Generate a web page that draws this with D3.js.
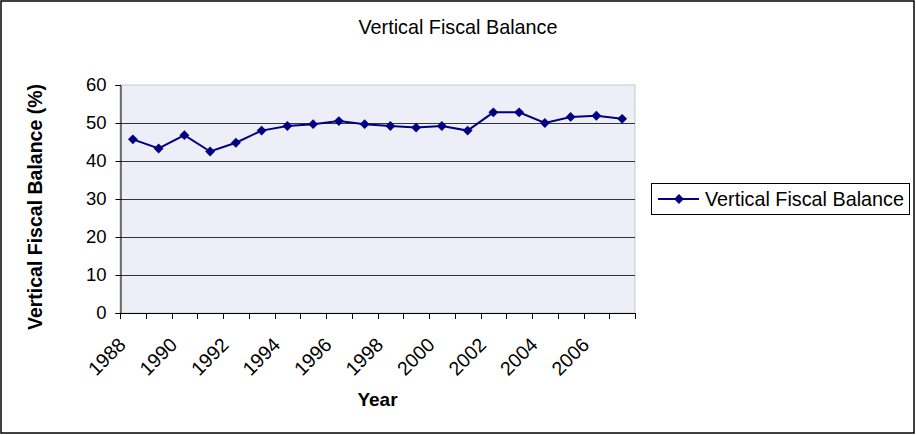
<!DOCTYPE html>
<html>
<head>
<meta charset="utf-8">
<script src="https://cdn.jsdelivr.net/npm/d3@7"></script>
<style>
  html, body { margin: 0; padding: 0; background: #fff; }
  svg { display: block; font-family: "Liberation Sans", Arial, sans-serif; }
</style>
</head>
<body>
<svg id="chart" width="916" height="435"></svg>
<script>
// Vertical fiscal balance by year, in percent
const years = [1988, 1989, 1990, 1991, 1992, 1993, 1994, 1995, 1996, 1997,
               1998, 1999, 2000, 2001, 2002, 2003, 2004, 2005, 2006, 2007];
const balance = [45.7, 43.3, 46.8, 42.5, 44.8, 48.0, 49.2, 49.7, 50.5, 49.7,
                 49.2, 48.8, 49.2, 48.0, 52.8, 52.8, 50.0, 51.6, 51.9, 51.1];
const yTicks = [0, 10, 20, 30, 40, 50, 60];
const xTickLabels = [1988, 1990, 1992, 1994, 1996, 1998, 2000, 2002, 2004, 2006];
const seriesName = "Vertical Fiscal Balance";

const svg = d3.select("#chart");
const W = 916, H = 435;
const plot = { left: 120, top: 85, right: 635, bottom: 313 };
const lineColor = "#000080";

// outer chart frame
svg.append("rect")
  .attr("x", 1).attr("y", 1).attr("width", W - 3).attr("height", H - 3)
  .attr("fill", "#fff").attr("stroke", "#000").attr("stroke-width", 1.5);

const x = d3.scaleBand().domain(years).range([plot.left, plot.right]).padding(0);
const y = d3.scaleLinear().domain([0, 60]).range([plot.bottom, plot.top]);

// plot area
svg.append("rect")
  .attr("x", plot.left).attr("y", plot.top)
  .attr("width", plot.right - plot.left).attr("height", plot.bottom - plot.top)
  .attr("fill", "#EEEEF8").attr("stroke", "#c8c8c8").attr("stroke-width", 1);

// horizontal gridlines
svg.append("g").selectAll("line")
  .data(yTicks.filter(t => t > 0 && t < 60))
  .join("line")
  .attr("x1", plot.left).attr("x2", plot.right)
  .attr("y1", d => Math.round(y(d)) + 0.5).attr("y2", d => Math.round(y(d)) + 0.5)
  .attr("stroke", "#333").attr("stroke-width", 1);

// y axis
const yAxis = svg.append("g")
  .attr("transform", `translate(${plot.left + 0.5},0)`)
  .call(d3.axisLeft(y).tickValues(yTicks).tickSize(5).tickPadding(9));
yAxis.select(".domain").attr("stroke", "#000");
yAxis.selectAll(".tick line").attr("stroke", "#000");
yAxis.selectAll("text").attr("font-size", 18.5).attr("fill", "#000")
  .attr("font-family", "Liberation Sans, Arial, sans-serif");

// x axis: ticks at category boundaries
const boundaries = years.map(d => x(d)).concat([plot.right]);
const xg = svg.append("g");
xg.append("line")
  .attr("x1", plot.left).attr("x2", plot.right)
  .attr("y1", plot.bottom + 0.5).attr("y2", plot.bottom + 0.5)
  .attr("stroke", "#000");
xg.selectAll("line.tk").data(boundaries).join("line").attr("class", "tk")
  .attr("x1", d => Math.round(d) + 0.5).attr("x2", d => Math.round(d) + 0.5)
  .attr("y1", plot.bottom).attr("y2", plot.bottom + 6)
  .attr("stroke", "#000");
xg.selectAll("text").data(xTickLabels).join("text")
  .attr("transform", d => `translate(${x(d) + x.bandwidth() / 2 - 6},${plot.bottom + 33}) rotate(-45)`)
  .attr("text-anchor", "end")
  .attr("font-size", 19.5)
  .attr("fill", "#000")
  .text(d => d);

// series line and markers
const line = d3.line()
  .x((d, i) => x(years[i]) + x.bandwidth() / 2)
  .y(d => y(d));
svg.append("path")
  .datum(balance)
  .attr("d", line)
  .attr("fill", "none").attr("stroke", lineColor).attr("stroke-width", 2);

const diamond = d3.symbol().type(d3.symbolDiamond2).size(62);
svg.append("g").selectAll("path")
  .data(balance)
  .join("path")
  .attr("transform", (d, i) => `translate(${x(years[i]) + x.bandwidth() / 2},${y(d)})`)
  .attr("d", diamond)
  .attr("fill", lineColor);

// titles
svg.append("text")
  .attr("x", 458).attr("y", 34)
  .attr("text-anchor", "middle").attr("font-size", 19.8)
  .attr("fill", "#000")
  .text("Vertical Fiscal Balance");

svg.append("text")
  .attr("x", (plot.left + plot.right) / 2).attr("y", 406)
  .attr("text-anchor", "middle").attr("font-size", 19).attr("font-weight", "bold")
  .attr("fill", "#000")
  .text("Year");

svg.append("text")
  .attr("transform", `translate(42,${(plot.top + plot.bottom) / 2 + 8}) rotate(-90)`)
  .attr("text-anchor", "middle").attr("font-size", 19.5).attr("font-weight", "bold")
  .attr("fill", "#000")
  .text("Vertical Fiscal Balance (%)");

// legend
const lg = svg.append("g");
lg.append("rect")
  .attr("x", 651.5).attr("y", 183.5).attr("width", 258).attr("height", 31)
  .attr("fill", "#fff").attr("stroke", "#000").attr("stroke-width", 1);
lg.append("line")
  .attr("x1", 658).attr("x2", 699).attr("y1", 199).attr("y2", 199)
  .attr("stroke", lineColor).attr("stroke-width", 2);
lg.append("path")
  .attr("transform", "translate(679,199)")
  .attr("d", diamond)
  .attr("fill", lineColor);
lg.append("text")
  .attr("x", 705).attr("y", 206)
  .attr("font-size", 19.8).attr("fill", "#000")
  .text(seriesName);
</script>
</body>
</html>
